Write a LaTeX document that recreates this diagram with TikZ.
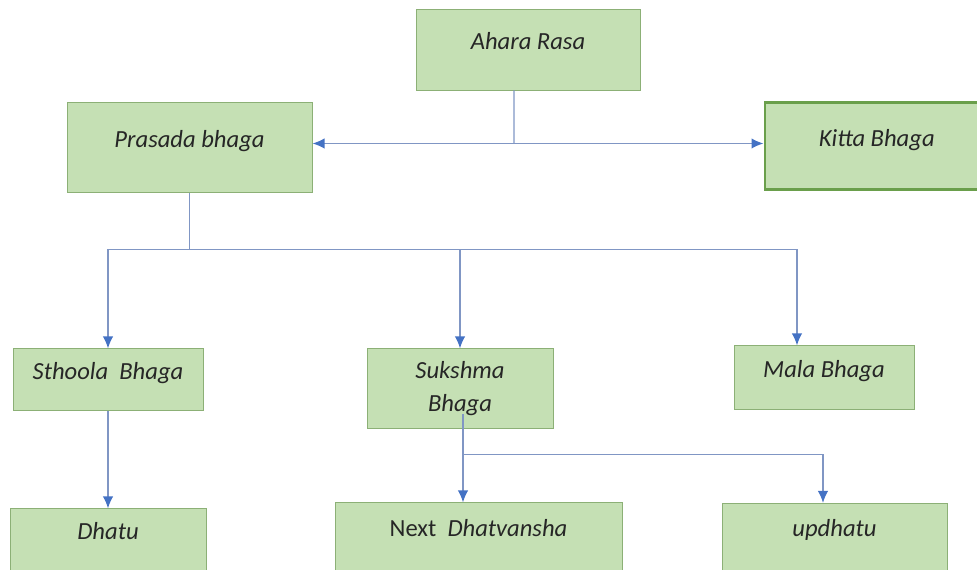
\documentclass[tikz,border=0pt]{standalone}
\usepackage{fontspec}
\setmainfont{Carlito}
\usepackage{tikz}
\usetikzlibrary{arrows.meta,positioning,calc}
\definecolor{boxfill}{RGB}{197,224,180}
\definecolor{boxline}{RGB}{140,176,118}
\definecolor{kittaline}{RGB}{106,159,75}
\definecolor{linkline}{RGB}{128,150,196}
\definecolor{tipblue}{RGB}{68,114,196}
\tikzset{
  >={Latex[length=3mm,width=2.6mm,color=tipblue]},
  box/.style={draw=boxline, line width=0.7pt, fill=boxfill, align=center, inner sep=1mm, text=black!85, font=\fontsize{17.5}{23.5}\selectfont\itshape, text height=4mm, text depth=4mm},
  twoline/.style={box, text height=, text depth=},
  link/.style={draw=linkline, line width=1pt},
  linkarrow/.style={link, ->},
}
\begin{document}
\begin{tikzpicture}[x=1mm, y=1mm]
  \useasboundingbox (0,0) rectangle (244.25,-142.5);

  \node[box, minimum width=56mm, minimum height=20.25mm] (rasa) at (132,-12.375) {Ahara Rasa};
  \node[box, minimum width=61.25mm, minimum height=22.5mm, below left=3mm and 25.75mm of rasa] (prasada) {Prasada bhaga};
  \node[box, draw=kittaline, line width=1.8pt, minimum width=56mm, minimum height=21.75mm, below right=2.75mm and 30.75mm of rasa] (kitta) {Kitta Bhaga};

  \node[box, minimum width=47.5mm, minimum height=15.5mm, below=38.75mm of prasada, xshift=-20.375mm] (sthoola) {Sthoola\ \ Bhaga};
  \node[twoline, minimum width=46.5mm, minimum height=20mm, right=40.75mm of sthoola.north east, anchor=north west] (sukshma) {Sukshma\\Bhaga};
  \node[box, minimum width=45mm, minimum height=16mm, right=45mm of sukshma.north east, anchor=north west, yshift=0.75mm] (mala) {Mala Bhaga};

  \node[box, minimum width=49mm, minimum height=15.5mm, below=24.25mm of sthoola] (dhatu) {Dhatu};
  \node[box, minimum width=71.75mm, minimum height=17mm, below=18.25mm of sukshma, xshift=4.625mm] (next) {{\upshape Next}\ \ Dhatvansha};
  \node[box, minimum width=56.25mm, minimum height=16.75mm, right=24.75mm of next] (updhatu) {updhatu};

  \coordinate (rasajoin) at ($(rasa.south)+(-3.5,-13.25)$);
  \coordinate (prasadajoin) at ($(prasada.south)+(0,-14)$);
  \coordinate (sukshmajoin) at ($(sukshma.south)+(0.75,-6.25)$);

  \draw[link] ([xshift=-3.5mm]rasa.south) -- (rasajoin);
  \draw[linkarrow] (rasajoin) -- (rasajoin -| prasada.east);
  \draw[linkarrow] (rasajoin) -- (rasajoin -| kitta.west);

  \draw[link] (prasada.south) -- (prasadajoin);
  \draw[linkarrow] (prasadajoin) -| (sthoola.north);
  \draw[linkarrow] (prasadajoin) -| (sukshma.north);
  \draw[linkarrow] (prasadajoin) -| ([xshift=-6.75mm]mala.north);

  \draw[linkarrow] (sthoola) -- (dhatu);
  \draw[linkarrow] ([xshift=0.75mm, yshift=3.75mm]sukshma.south) -- (sukshmajoin |- next.north);
  \draw[linkarrow] (sukshmajoin) -| ([xshift=-2.875mm]updhatu.north);
\end{tikzpicture}
\end{document}
